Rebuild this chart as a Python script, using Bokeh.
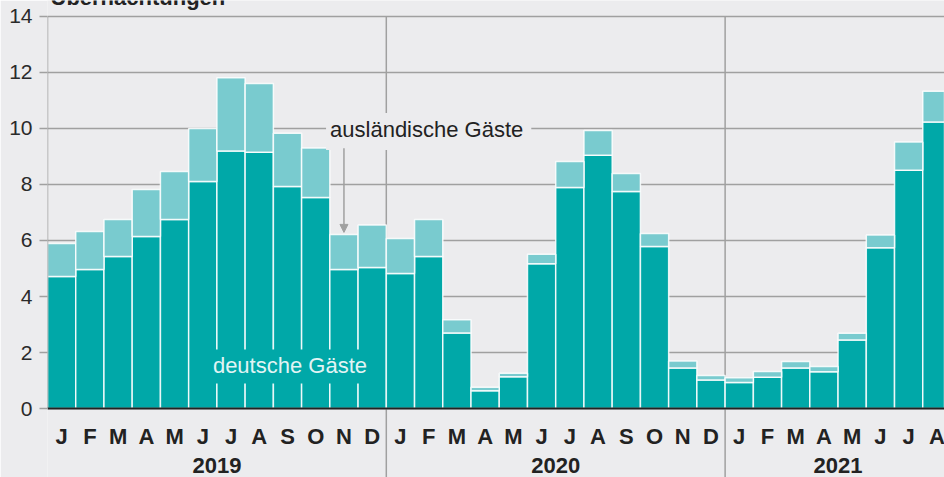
from bokeh.plotting import figure
from bokeh.models import ColumnDataSource, Range1d, FixedTicker, Label, Arrow, NormalHead
from bokeh.core.properties import value
from bokeh.embed import file_html
from bokeh.resources import INLINE

# ---- data (Mio. Übernachtungen) ----
month_labels = ["J", "F", "M", "A", "M", "J", "J", "A", "S", "O", "N", "D"] * 2 + \
               ["J", "F", "M", "A", "M", "J", "J", "A"]
years = ["2019", "2020", "2021"]
months_per_year = [12, 12, 8]
deutsche = [4.71, 4.96, 5.43, 6.14, 6.75, 8.11, 9.20, 9.15, 7.93, 7.54, 4.96, 5.04,
            4.82, 5.43, 2.70, 0.63, 1.13, 5.17, 7.89, 9.04, 7.75, 5.79, 1.45, 1.02,
            0.93, 1.12, 1.45, 1.31, 2.45, 5.74, 8.51, 10.23]
auslaendische = [1.18, 1.36, 1.32, 1.68, 1.71, 1.89, 2.61, 2.46, 1.90, 1.76, 1.25, 1.51,
                 1.25, 1.32, 0.47, 0.13, 0.13, 0.34, 0.93, 0.89, 0.64, 0.46, 0.25, 0.16,
                 0.17, 0.20, 0.23, 0.19, 0.24, 0.46, 1.01, 1.10]
y_ticks = [0, 2, 4, 6, 8, 10, 12, 14]

BG = "#ececee"
TEAL = "#00a8a8"
LIGHT = "#79cbcf"
GRID = "#a0a0a0"
DARK = "#222222"
FONT = "Liberation Sans"

x = list(range(len(deutsche)))
src = ColumnDataSource(dict(x=x, de=deutsche, aus=auslaendische))

p = figure(width=944, height=477, output_backend="svg", toolbar_location=None,
           x_range=Range1d(-0.5, 31.27), y_range=Range1d(-2.464, 14.571),
           min_border_left=47, min_border_right=0, min_border_top=0,
           min_border_bottom=0, background_fill_color=BG, border_fill_color=BG,
           outline_line_color=None)
p.margin = (0, 0, 0, 0)
p.xaxis.visible = False

# year separators
bounds = []
s = 0
for n in months_per_year[:-1]:
    s += n
    bounds.append(s - 0.5)
p.segment(x0=bounds, x1=bounds, y0=[y_ticks[-1]] * len(bounds), y1=[-2.464] * len(bounds),
          line_color=GRID, line_width=1.5)

# grid
p.xgrid.grid_line_color = None
p.ygrid.grid_line_color = GRID
p.ygrid.grid_line_width = 1.5
p.ygrid.ticker = FixedTicker(ticks=y_ticks)

# bars
p.vbar_stack(["de", "aus"], x="x", width=1.0, color=[TEAL, LIGHT], source=src,
             line_color="white", line_width=1.5, line_alpha=0.85)

# y axis
p.yaxis.ticker = FixedTicker(ticks=y_ticks)
p.yaxis.axis_line_color = None
p.yaxis.major_tick_line_color = GRID
p.yaxis.major_tick_line_width = 1.5
p.yaxis.major_tick_out = 8
p.yaxis.major_tick_in = 0
p.yaxis.minor_tick_line_color = None
p.yaxis.major_label_standoff = 7
p.yaxis.major_label_text_font = FONT
p.yaxis.major_label_text_font_size = "21px"
p.yaxis.major_label_text_color = "#2a2a2a"
p.segment(x0=[-0.5], x1=[-0.5], y0=[y_ticks[0]], y1=[y_ticks[-1]],
          line_color=GRID, line_width=1.5)

# x axis line
p.segment(x0=[-0.5], x1=[len(x)], y0=[0], y1=[0], line_color=DARK, line_width=2)

# month labels
p.text(x=x, y=[-1.0] * len(x), text=month_labels, text_align="center",
       text_baseline="middle", text_font=value(FONT), text_font_style=value("bold"),
       text_font_size=value("22px"), text_color=DARK)

# year labels
centers = []
s = 0
for n in months_per_year:
    centers.append(s + (n - 1) / 2)
    s += n
p.text(x=centers, y=[-2.04] * len(years), text=years, text_align="center",
       text_baseline="middle", text_font=value(FONT), text_font_style=value("bold"),
       text_font_size=value("22px"), text_color=DARK)

# title (cut off at top, as in the original)
p.text(x=[-0.394], y=[14.68], text=["Übernachtungen"], text_align="left",
       text_baseline="middle", text_font=value(FONT), text_font_style=value("bold"),
       text_font_size=value("22px"), text_color=DARK)

# annotations
p.add_layout(Label(x=13.0, y=9.89, text="ausländische Gäste", text_align="center",
                   text_baseline="middle",
                   text_font=FONT, text_font_size="22px", text_color=DARK,
                   background_fill_color=BG, padding=(4, 8, 4, 8)))
nov = 10
p.add_layout(Arrow(end=NormalHead(size=8, fill_color=GRID, line_color=GRID),
                   x_start=nov, x_end=nov, y_start=9.29,
                   y_end=deutsche[nov] + auslaendische[nov] + 0.08,
                   line_color=GRID, line_width=1.5))
p.add_layout(Label(x=8.14, y=1.5, text="deutsche Gäste", text_align="center",
                   text_baseline="middle",
                   text_font=FONT, text_font_size="22px", text_color="#e2f4f4",
                   background_fill_color=TEAL, padding=(3, 6, 3, 6)))

open("out.html", "w").write(file_html(p, INLINE))
